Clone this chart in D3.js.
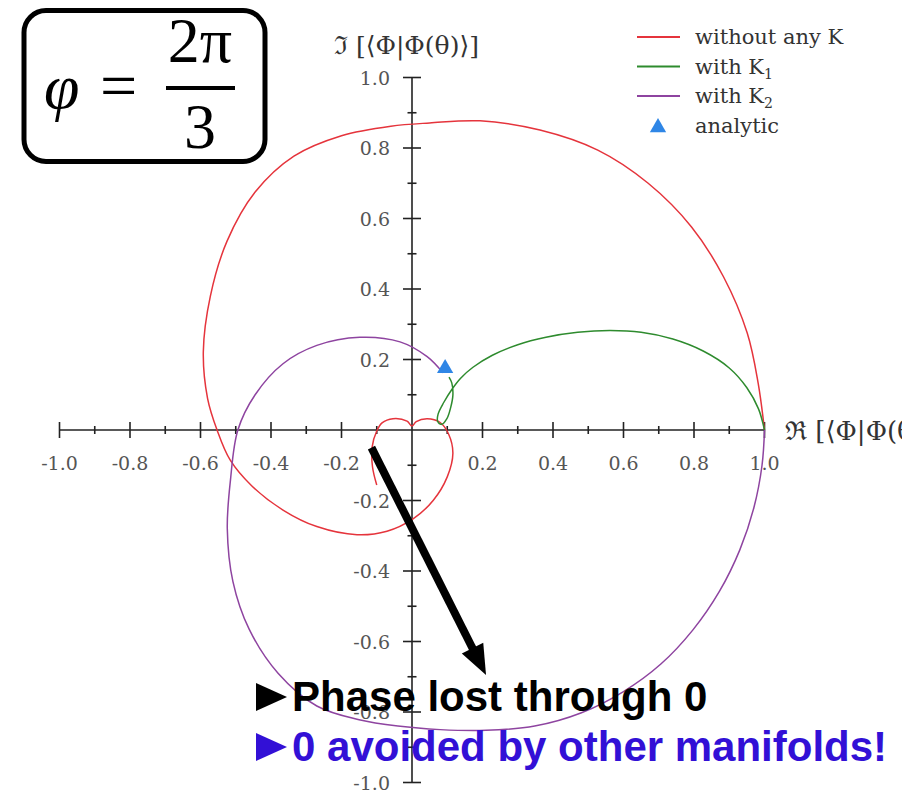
<!DOCTYPE html>
<html>
<head>
<meta charset="utf-8">
<script src="https://cdn.jsdelivr.net/npm/d3@7"></script>
<style>
  html, body { margin: 0; padding: 0; background: #fff; }
  svg { display: block; }
</style>
</head>
<body>
<svg id="chart" width="902" height="799"></svg>
<script>
// Overlap <Phi|Phi(theta)> in the complex plane, phi = 2pi/3
// Each series: [Re, Im] samples along theta.
const withoutK = [
  [1.0, 0], [0.982, 0.133], [0.951, 0.275], [0.884, 0.434], [0.793, 0.576],
  [0.67, 0.70], [0.527, 0.794], [0.363, 0.851], [0.193, 0.877], [0.05, 0.871],
  [-0.06, 0.862], [-0.2, 0.835], [-0.335, 0.777], [-0.445, 0.675], [-0.525, 0.535],
  [-0.572, 0.38], [-0.592, 0.222], [-0.58, 0.09],
  [-0.553, 0], [-0.516, -0.085], [-0.455, -0.158], [-0.366, -0.227], [-0.27, -0.274],
  [-0.156, -0.297], [-0.071, -0.287], [0.003, -0.252], [0.06, -0.2], [0.1, -0.133],
  [0.116, -0.066], [0.104, -0.012], [0.079, 0.022], [0.043, 0.032], [0.012, 0.024],
  [0, 0.011], [-0.014, 0.025], [-0.054, 0.032], [-0.085, 0.02], [-0.1, -0.003],
  [-0.113, -0.048], [-0.112, -0.105], [-0.1, -0.156]
];
const withK1 = [
  [1.0, 0], [0.983, 0.06], [0.95, 0.12], [0.9, 0.176], [0.826, 0.224],
  [0.74, 0.258], [0.65, 0.277], [0.562, 0.282], [0.47, 0.277], [0.38, 0.263],
  [0.3, 0.242], [0.228, 0.212], [0.173, 0.178], [0.138, 0.147], [0.113, 0.115],
  [0.09, 0.078], [0.074, 0.045], [0.073, 0.024], [0.084, 0.016], [0.099, 0.032],
  [0.11, 0.065], [0.116, 0.099], [0.113, 0.133], [0.105, 0.15]
];
const withK2 = [
  [1.0, 0], [0.993, -0.1], [0.97, -0.22], [0.93, -0.34], [0.872, -0.458],
  [0.797, -0.567], [0.706, -0.664], [0.60, -0.742], [0.479, -0.803], [0.348, -0.84],
  [0.21, -0.852], [0.08, -0.85], [-0.04, -0.84], [-0.15, -0.822], [-0.27, -0.783],
  [-0.38, -0.69], [-0.462, -0.565], [-0.508, -0.43], [-0.524, -0.28], [-0.515, -0.142],
  [-0.494, 0], [-0.445, 0.1], [-0.366, 0.188], [-0.27, 0.24], [-0.148, 0.263],
  [-0.034, 0.25], [0.043, 0.208], [0.088, 0.162]
];
const analytic = [[0.094, 0.175]];

const majorTicks = [-1.0, -0.8, -0.6, -0.4, -0.2, 0.2, 0.4, 0.6, 0.8, 1.0];
const minorTicks = [-0.9, -0.7, -0.5, -0.3, -0.1, 0.1, 0.3, 0.5, 0.7, 0.9];
const tickLabels = ["-1.0", "-0.8", "-0.6", "-0.4", "-0.2", "0.2", "0.4", "0.6", "0.8", "1.0"];

const legendItems = [
  { name: "without any K", sub: "", color: "#e5343c", type: "line" },
  { name: "with K", sub: "1", color: "#2e8b2e", type: "line" },
  { name: "with K", sub: "2", color: "#8e44a0", type: "line" },
  { name: "analytic", sub: "", color: "#2f86e6", type: "tri" }
];

const svg = d3.select("#chart");
const x = d3.scaleLinear().domain([-1, 1]).range([59.5, 764.5]);
const y = d3.scaleLinear().domain([-1, 1]).range([782.5, 77.5]);

const axisColor = "#222";
const labelColor = "#555";
const serif = "'DejaVu Serif', 'Liberation Serif', serif";

// ---- axes through the origin ----
const axes = svg.append("g").attr("stroke", axisColor).attr("stroke-width", 1.6);
axes.append("line").attr("x1", x(-1)).attr("x2", x(1)).attr("y1", y(0)).attr("y2", y(0));
axes.append("line").attr("x1", x(0)).attr("x2", x(0)).attr("y1", y(1)).attr("y2", y(-1));

// x ticks
axes.selectAll(".xmaj").data(majorTicks).join("line")
  .attr("class", "xmaj")
  .attr("x1", d => x(d)).attr("x2", d => x(d))
  .attr("y1", y(0) - 8).attr("y2", y(0) + 8);
axes.selectAll(".xmin").data(minorTicks).join("line")
  .attr("class", "xmin")
  .attr("x1", d => x(d)).attr("x2", d => x(d))
  .attr("y1", y(0) - 4).attr("y2", y(0) + 4);
// y ticks
axes.selectAll(".ymaj").data(majorTicks).join("line")
  .attr("class", "ymaj")
  .attr("y1", d => y(d)).attr("y2", d => y(d))
  .attr("x1", x(0) - 9).attr("x2", x(0) + 9);
axes.selectAll(".ymin").data(minorTicks).join("line")
  .attr("class", "ymin")
  .attr("y1", d => y(d)).attr("y2", d => y(d))
  .attr("x1", x(0) - 4.5).attr("x2", x(0) + 4.5);

// tick labels
const tl = svg.append("g").attr("font-family", serif).attr("font-size", 19).attr("fill", labelColor);
tl.selectAll(".xl").data(majorTicks).join("text")
  .attr("class", "xl")
  .attr("x", d => x(d)).attr("y", y(0) + 40)
  .attr("text-anchor", "middle")
  .text((d, i) => tickLabels[i]);
tl.selectAll(".yl").data(majorTicks).join("text")
  .attr("class", "yl")
  .attr("x", x(0) - 22).attr("y", d => y(d) + 7)
  .attr("text-anchor", "end")
  .text((d, i) => tickLabels[i]);

// axis titles
svg.append("text").attr("x", 334).attr("y", 54)
  .attr("font-family", serif).attr("font-size", 25).attr("fill", "#333")
  .text("\u2111 [\u27E8\u03A6|\u03A6(\u03B8)\u27E9]");
svg.append("text").attr("x", 785).attr("y", 440)
  .attr("font-family", serif).attr("font-size", 26).attr("fill", "#333")
  .text("\u211C [\u27E8\u03A6|\u03A6(\u03B8)\u27E9]");

// ---- curves ----
const line = d3.line().x(d => x(d[0])).y(d => y(d[1])).curve(d3.curveCatmullRom.alpha(0.5));
const curves = svg.append("g").attr("fill", "none").attr("stroke-width", 1.5);
curves.append("path").datum(withoutK).attr("d", line).attr("stroke", legendItems[0].color);
curves.append("path").datum(withK1).attr("d", line).attr("stroke", legendItems[1].color);
curves.append("path").datum(withK2).attr("d", line).attr("stroke", legendItems[2].color);

const tri = d3.symbol().type(d3.symbolTriangle).size(115);
svg.selectAll(".an").data(analytic).join("path")
  .attr("class", "an")
  .attr("d", tri)
  .attr("transform", d => `translate(${x(d[0])},${y(d[1])})`)
  .attr("fill", legendItems[3].color);

// ---- legend ----
const lg = svg.append("g").attr("font-family", serif).attr("font-size", 21).attr("fill", "#333");
legendItems.forEach((it, i) => {
  const cy = 37 + i * 29.5;
  if (it.type === "line") {
    lg.append("line").attr("x1", 637).attr("x2", 680).attr("y1", cy).attr("y2", cy)
      .attr("stroke", it.color).attr("stroke-width", 1.8);
  } else {
    lg.append("path").attr("d", tri).attr("transform", `translate(658,${cy + 2})`).attr("fill", it.color);
  }
  const t = lg.append("text").attr("x", 695).attr("y", cy + 7).text(it.name);
  if (it.sub) {
    t.append("tspan").attr("font-size", 14).attr("dy", 5).text(it.sub);
  }
});

// ---- annotation arrow ----
const a0 = [x(-0.115), y(-0.05)];
const a1 = [x(0.21), y(-0.695)];
const dx = a1[0] - a0[0], dy = a1[1] - a0[1];
const len = Math.hypot(dx, dy), ux = dx / len, uy = dy / len;
const headLen = 30, headHalf = 12;
const base = [a1[0] - ux * headLen, a1[1] - uy * headLen];
svg.append("line")
  .attr("x1", a0[0]).attr("y1", a0[1]).attr("x2", base[0] + ux * 2).attr("y2", base[1] + uy * 2)
  .attr("stroke", "#000").attr("stroke-width", 8);
svg.append("path")
  .attr("d", `M${a1[0]},${a1[1]} L${base[0] - uy * headHalf},${base[1] + ux * headHalf} L${base[0] + uy * headHalf},${base[1] - ux * headHalf} Z`)
  .attr("fill", "#000");

// ---- phi box ----
const box = svg.append("g");
box.append("rect").attr("x", 24).attr("y", 10.5).attr("width", 241).attr("height", 151)
  .attr("rx", 22).attr("fill", "#fff").attr("stroke", "#000").attr("stroke-width", 5);
const mathFont = "'Liberation Serif', 'DejaVu Serif', serif";
box.append("text").attr("x", 44).attr("y", 108).attr("font-family", mathFont)
  .attr("font-size", 64).attr("font-style", "italic").text("\u03C6");
box.append("text").attr("x", 100).attr("y", 108).attr("font-family", mathFont)
  .attr("font-size", 66).text("=");
box.append("text").attr("x", 200).attr("y", 62).attr("font-family", mathFont)
  .attr("font-size", 64).attr("text-anchor", "middle").text("2\u03C0");
box.append("rect").attr("x", 166).attr("y", 86).attr("width", 69).attr("height", 4).attr("fill", "#000");
box.append("text").attr("x", 200).attr("y", 148).attr("font-family", mathFont)
  .attr("font-size", 64).attr("text-anchor", "middle").text("3");

// ---- bullet notes ----
const notes = [
  { text: "Phase lost through 0", color: "#000", y: 711 },
  { text: "0 avoided by other manifolds!", color: "#3210d6", y: 761 }
];
notes.forEach(n => {
  svg.append("path")
    .attr("d", `M256,${n.y - 28} L256,${n.y} L287,${n.y - 14} Z`)
    .attr("fill", n.color);
  svg.append("text").attr("x", 292).attr("y", n.y)
    .attr("font-family", "'Liberation Sans', Arial, sans-serif")
    .attr("font-weight", "bold").attr("font-size", 42)
    .attr("fill", n.color).text(n.text);
});
</script>
</body>
</html>
